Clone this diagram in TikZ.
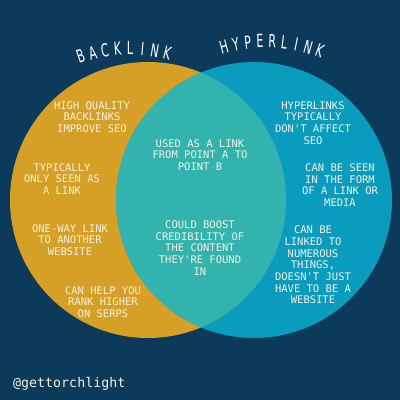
\documentclass[tikz,border=0pt]{standalone}
\usepackage{fontspec}
\setmonofont{DejaVu Sans Mono}
\newfontfamily\titlefont{DejaVu Sans}
\usetikzlibrary{calc}
\definecolor{navy}{HTML}{0B3A5B}
\definecolor{gold}{HTML}{D6A026}
\definecolor{sky}{HTML}{0A9CBF}
\definecolor{mint}{HTML}{32B3AE}
\definecolor{cream}{HTML}{F4F0E2}
\newcommand\narrowch[1]{\scalebox{0.62}[1]{#1}}
\tikzset{
  note/.style={text=cream,align=center,inner sep=0pt,
    font=\ttfamily\fontsize{10.5}{11.7}\selectfont},
  title/.style={text=white,inner sep=0pt,anchor=south,
    font=\titlefont\fontsize{18}{18}\selectfont}
}

\begin{document}
\begin{tikzpicture}[x=1pt,y=1pt]
  % background
  \fill[navy] (0,0) rectangle (400,400);
  \useasboundingbox (0,0) rectangle (400,400);
  % circles
  \coordinate (lc) at (148,200);
  \coordinate (rc) at (254,200);
  \fill[gold] (lc) circle (138);
  \fill[sky] (rc) circle (138);
  \begin{scope}
    \clip (lc) circle (138);
    \fill[mint] (rc) circle (138);
  \end{scope}
  % titles on arcs
  \coordinate (la) at (130,200);
  \coordinate (ra) at (265,200);
  \foreach \ch [count=\i] in {B,A,C,K,L,I,N,K}
    \node[title,rotate={(4.5-\i)*4.74+2.4}] (bl\i) at ($(la)+({92.4+(4.5-\i)*4.74}:145)$) {\narrowch{\ch}};
  \foreach \ch [count=\i] in {H,Y,P,E,R,L,I,N,K}
    \node[title,rotate={(5-\i)*4.4-2.6}] (hl\i) at ($(ra)+({87.4+(5-\i)*4.4}:152)$) {\narrowch{\ch}};
  % backlink side
  \node[note] (hq) at (92,283) {HIGH QUALITY\\BACKLINKS\\IMPROVE SEO};
  \node[note] (typ) at (62,221) {TYPICALLY\\ONLY SEEN AS\\A LINK};
  \node[note] (oneway) at (70,160) {ONE-WAY LINK\\TO ANOTHER\\WEBSITE};
  \node[note] (rank) at (103,98) {CAN HELP YOU\\RANK HIGHER\\ON SERPS};
  % overlap
  \node[note] (used) at (200,245) {USED AS A LINK\\FROM POINT A TO\\POINT B};
  \node[note] (could) at (200,152) {COULD BOOST\\CREDIBILITY OF\\THE CONTENT\\THEY'RE FOUND\\IN};
  % hyperlink side
  \node[note] (hyp) at (313,277) {HYPERLINKS\\TYPICALLY\\DON'T AFFECT\\SEO};
  \node[note] (seen) at (340,215) {CAN BE SEEN\\IN THE FORM\\OF A LINK OR\\MEDIA};
  \node[note] (linked) at (313,135) {CAN BE\\LINKED TO\\NUMEROUS\\THINGS,\\DOESN'T JUST\\HAVE TO BE A\\WEBSITE};
  % handle
  \node[note,anchor=west,font=\ttfamily\fontsize{13.3}{13.3}\selectfont] (handle) at (13,16) {@gettorchlight};
\end{tikzpicture}
\end{document}
